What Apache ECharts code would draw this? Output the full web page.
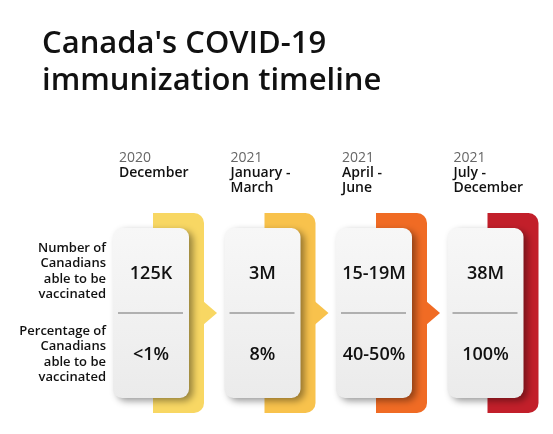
<!DOCTYPE html>
<html><head><meta charset="utf-8">
<script src="https://cdn.jsdelivr.net/npm/echarts@6/dist/echarts.min.js"></script>
<style>html,body{margin:0;padding:0;background:#fff}#c{width:553px;height:434px}</style>
</head><body><div id="c"></div>
<script>
const titleText = "Canada's COVID-19\nimmunization timeline";
const years = ['2020', '2021', '2021', '2021'];
const periods = ['December', 'January -\nMarch', 'April -\nJune', 'July -\nDecember'];
const canadiansVaccinated = ['125K', '3M', '15-19M', '38M'];
const percentVaccinated = ['<1%', '8%', '40-50%', '100%'];
const rowLabels = ['Number of\nCanadians\nable to be\nvaccinated', 'Percentage of\nCanadians\nable to be\nvaccinated'];
const phaseColors = ['#f8d763', '#f8c24c', '#f06b24', '#c21f2a'];

const FONT = '"Open Sans", "Noto Sans", sans-serif';
const chart = echarts.init(document.getElementById('c'), null, {renderer: 'canvas'});

function renderItem(params, api) {
  const i = params.dataIndex;
  const n = years.length;
  const cx = api.coord([i, 0])[0];
  const children = [];
  children.push({
    type: 'rect',
    shape: {x: cx + 2, y: 213, width: 51, height: 200, r: [0, 10, 10, 0]},
    style: {fill: phaseColors[i]}
  });
  if (i < n - 1) {
    children.push({
      type: 'polygon',
      shape: {points: [[cx + 52, 301], [cx + 66, 313], [cx + 52, 325]]},
      style: {fill: phaseColors[i]}
    });
  }
  children.push({
    type: 'rect',
    shape: {x: cx - 38, y: 228, width: 76, height: 170, r: 9},
    style: {
      fill: new echarts.graphic.LinearGradient(0, 0, 0, 1, [
        {offset: 0, color: '#f7f7f7'}, {offset: 1, color: '#ebebeb'}
      ]),
      shadowBlur: 7, shadowOffsetX: 4, shadowOffsetY: 3,
      shadowColor: 'rgba(0,0,0,0.4)'
    }
  });
  children.push({
    type: 'line',
    shape: {x1: cx - 33, y1: 313, x2: cx + 32, y2: 313},
    style: {stroke: '#9a9a9a', lineWidth: 1.6}
  });
  children.push({
    type: 'text',
    style: {x: cx, y: 274, text: canadiansVaccinated[i], align: 'center', verticalAlign: 'middle',
      font: '600 18px ' + FONT, fill: '#111'}
  });
  children.push({
    type: 'text',
    style: {x: cx, y: 355, text: percentVaccinated[i], align: 'center', verticalAlign: 'middle',
      font: '600 18px ' + FONT, fill: '#111'}
  });
  children.push({
    type: 'text',
    style: {x: cx - 32, y: 158, text: years[i], align: 'left', verticalAlign: 'middle',
      font: '400 14px ' + FONT, fill: '#666'}
  });
  children.push({
    type: 'text',
    style: {x: cx - 32, y: 165.5, text: periods[i], align: 'left', verticalAlign: 'top',
      font: '600 14px ' + FONT, fill: '#111', lineHeight: 15}
  });
  return {type: 'group', children: children};
}

chart.setOption({
  backgroundColor: '#fff',
  animation: false,
  title: {
    text: titleText, left: 37, top: 21,
    textStyle: {fontFamily: FONT, fontWeight: 600, fontSize: 31, color: '#111', lineHeight: 37}
  },
  grid: {left: 95.25, right: 11.75, top: 0, bottom: 0},
  xAxis: {type: 'category', data: years.map((y, i) => i), show: false},
  yAxis: {type: 'value', min: 0, max: 1, show: false},
  graphic: [
    {type: 'text', style: {x: 106, y: 240.5, text: rowLabels[0], align: 'right', verticalAlign: 'top',
      font: '600 13px ' + FONT, fill: '#111', lineHeight: 15.5}},
    {type: 'text', style: {x: 106, y: 323.5, text: rowLabels[1], align: 'right', verticalAlign: 'top',
      font: '600 13px ' + FONT, fill: '#111', lineHeight: 15.5}}
  ],
  series: [{
    type: 'custom',
    renderItem: renderItem,
    data: years.map((y, i) => [i, 0]),
    clip: false
  }]
});
</script></body></html>
